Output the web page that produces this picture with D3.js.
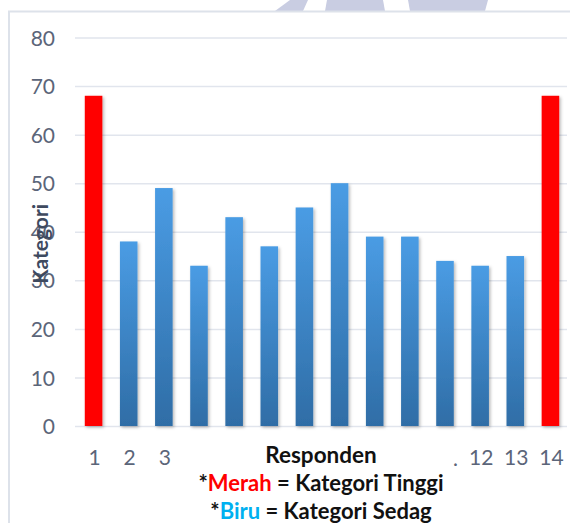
<!DOCTYPE html>
<html>
<head>
<meta charset="utf-8">
<script src="https://cdn.jsdelivr.net/npm/d3@7"></script>
<style>
  html, body { margin: 0; padding: 0; background: #ffffff; }
  svg { display: block; }
</style>
</head>
<body>
<svg id="chart" width="570" height="523"></svg>
<script>
// Respondent scores
const categories = [1, 2, 3, 4, 5, 6, 7, 8, 9, 10, 11, 12, 13, 14];
const scores = [68, 38, 49, 33, 43, 37, 45, 50, 39, 39, 34, 33, 35, 68];
const levels = ["Tinggi", "Sedang", "Sedang", "Sedang", "Sedang", "Sedang", "Sedang",
                "Sedang", "Sedang", "Sedang", "Sedang", "Sedang", "Sedang", "Tinggi"];
// middle labels sit under the caption block, so they are left empty
const xTickLabels = ["1", "2", "3", "", "", "", "", "", "", "", "", "12", "13", "14"];
const yTicks = [0, 10, 20, 30, 40, 50, 60, 70, 80];

const svg = d3.select("#chart");
const W = 570, H = 523;
const plot = { left: 75, right: 567, top: 37.5, bottom: 426 };

// faint emblem shapes peeking above the frame
const emblem = [
  [[290, 0], [308, 0], [303, 11], [275, 11]],
  [[327, 0], [383, 0], [385, 11], [325, 11]],
  [[408, 0], [488, 0], [485, 11], [410, 11]]
];
svg.selectAll("polygon.emblem").data(emblem).join("polygon")
  .attr("class", "emblem")
  .attr("points", d => d.map(p => p.join(",")).join(" "))
  .attr("fill", "#c9cde2");

// chart frame
svg.append("rect")
  .attr("x", 9).attr("y", 11.5)
  .attr("width", W + 10).attr("height", H)
  .attr("fill", "#ffffff")
  .attr("stroke", "#dde2ea").attr("stroke-width", 2);

const x = d3.scaleBand()
  .domain(categories)
  .range([76, 568])
  .paddingInner(0.5)
  .paddingOuter(0.25);

const y = d3.scaleLinear().domain([0, 80]).range([plot.bottom, plot.top]);

const defs = svg.append("defs");
const grad = defs.append("linearGradient")
  .attr("id", "blueFill").attr("x1", 0).attr("y1", 0).attr("x2", 0).attr("y2", 1);
grad.append("stop").attr("offset", "0%").attr("stop-color", "#4a9ce4");
grad.append("stop").attr("offset", "100%").attr("stop-color", "#2f6da6");

const shadow = defs.append("filter").attr("id", "barShadow")
  .attr("x", "-30%").attr("y", "-5%").attr("width", "170%").attr("height", "115%");
shadow.append("feDropShadow")
  .attr("dx", 1.5).attr("dy", 1.5).attr("stdDeviation", 1.5)
  .attr("flood-color", "#000").attr("flood-opacity", 0.28);

// horizontal gridlines
const yAxis = d3.axisLeft(y).tickValues(yTicks).tickSize(-(plot.right - plot.left)).tickPadding(20);
const gy = svg.append("g")
  .attr("transform", `translate(${plot.left},0)`)
  .call(yAxis);
gy.select(".domain").remove();
gy.selectAll(".tick line").attr("stroke", "#e1e5ed").attr("stroke-width", 1.5);
gy.selectAll(".tick text")
  .attr("fill", "#5b6579")
  .attr("font-family", "Lato, 'Open Sans', sans-serif")
  .attr("font-size", 21)
  .attr("dy", "0.36em");

// bars
const fillFor = i => levels[i] === "Tinggi" ? "#ff0000" : "url(#blueFill)";
svg.append("g").selectAll("rect")
  .data(scores)
  .join("rect")
  .attr("x", (d, i) => x(categories[i]))
  .attr("y", d => y(d))
  .attr("width", x.bandwidth())
  .attr("height", d => y(0) - y(d))
  .attr("fill", (d, i) => fillFor(i))
  .attr("filter", "url(#barShadow)");

// category axis
const xAxis = d3.axisBottom(x).tickSize(0).tickPadding(24)
  .tickFormat((d, i) => xTickLabels[i]);
const gx = svg.append("g")
  .attr("transform", `translate(1,${plot.bottom})`)
  .call(xAxis);
gx.select(".domain").remove();
gx.selectAll(".tick text")
  .attr("fill", "#5b6579")
  .attr("font-family", "Lato, 'Open Sans', sans-serif")
  .attr("font-size", 21);

// stray dot left of label 12
svg.append("text")
  .attr("x", x(11) + x.step() * 0.3 + x.bandwidth() / 2)
  .attr("y", plot.bottom + 40)
  .attr("text-anchor", "middle")
  .attr("fill", "#5b6579")
  .attr("font-family", "Lato, 'Open Sans', sans-serif")
  .attr("font-size", 21)
  .text(".");

const titleFont = "Lato, 'Open Sans', sans-serif";
svg.append("text")
  .attr("x", 321).attr("y", 463)
  .attr("text-anchor", "middle")
  .attr("font-family", titleFont).attr("font-weight", 700).attr("font-size", 22.5)
  .attr("fill", "#111111")
  .text("Responden");

const legendLines = [
  { key: "Merah", color: "#ff0000", rest: " = Kategori Tinggi", y: 491 },
  { key: "Biru", color: "#00b0f0", rest: " = Kategori Sedag", y: 519 }
];
legendLines.forEach(l => {
  const t = svg.append("text")
    .attr("x", 321).attr("y", l.y)
    .attr("text-anchor", "middle")
    .attr("font-family", titleFont).attr("font-weight", 700).attr("font-size", 22)
    .attr("fill", "#111111");
  t.append("tspan").text("*");
  t.append("tspan").attr("fill", l.color).text(l.key);
  t.append("tspan").text(l.rest);
});

// value axis title
svg.append("text")
  .attr("transform", `translate(48,${y(37.5)}) rotate(-90)`)
  .attr("text-anchor", "middle")
  .attr("font-family", titleFont).attr("font-weight", 700).attr("font-size", 21)
  .attr("fill", "#3e4a5f")
  .text("Kategori");
</script>
</body>
</html>
